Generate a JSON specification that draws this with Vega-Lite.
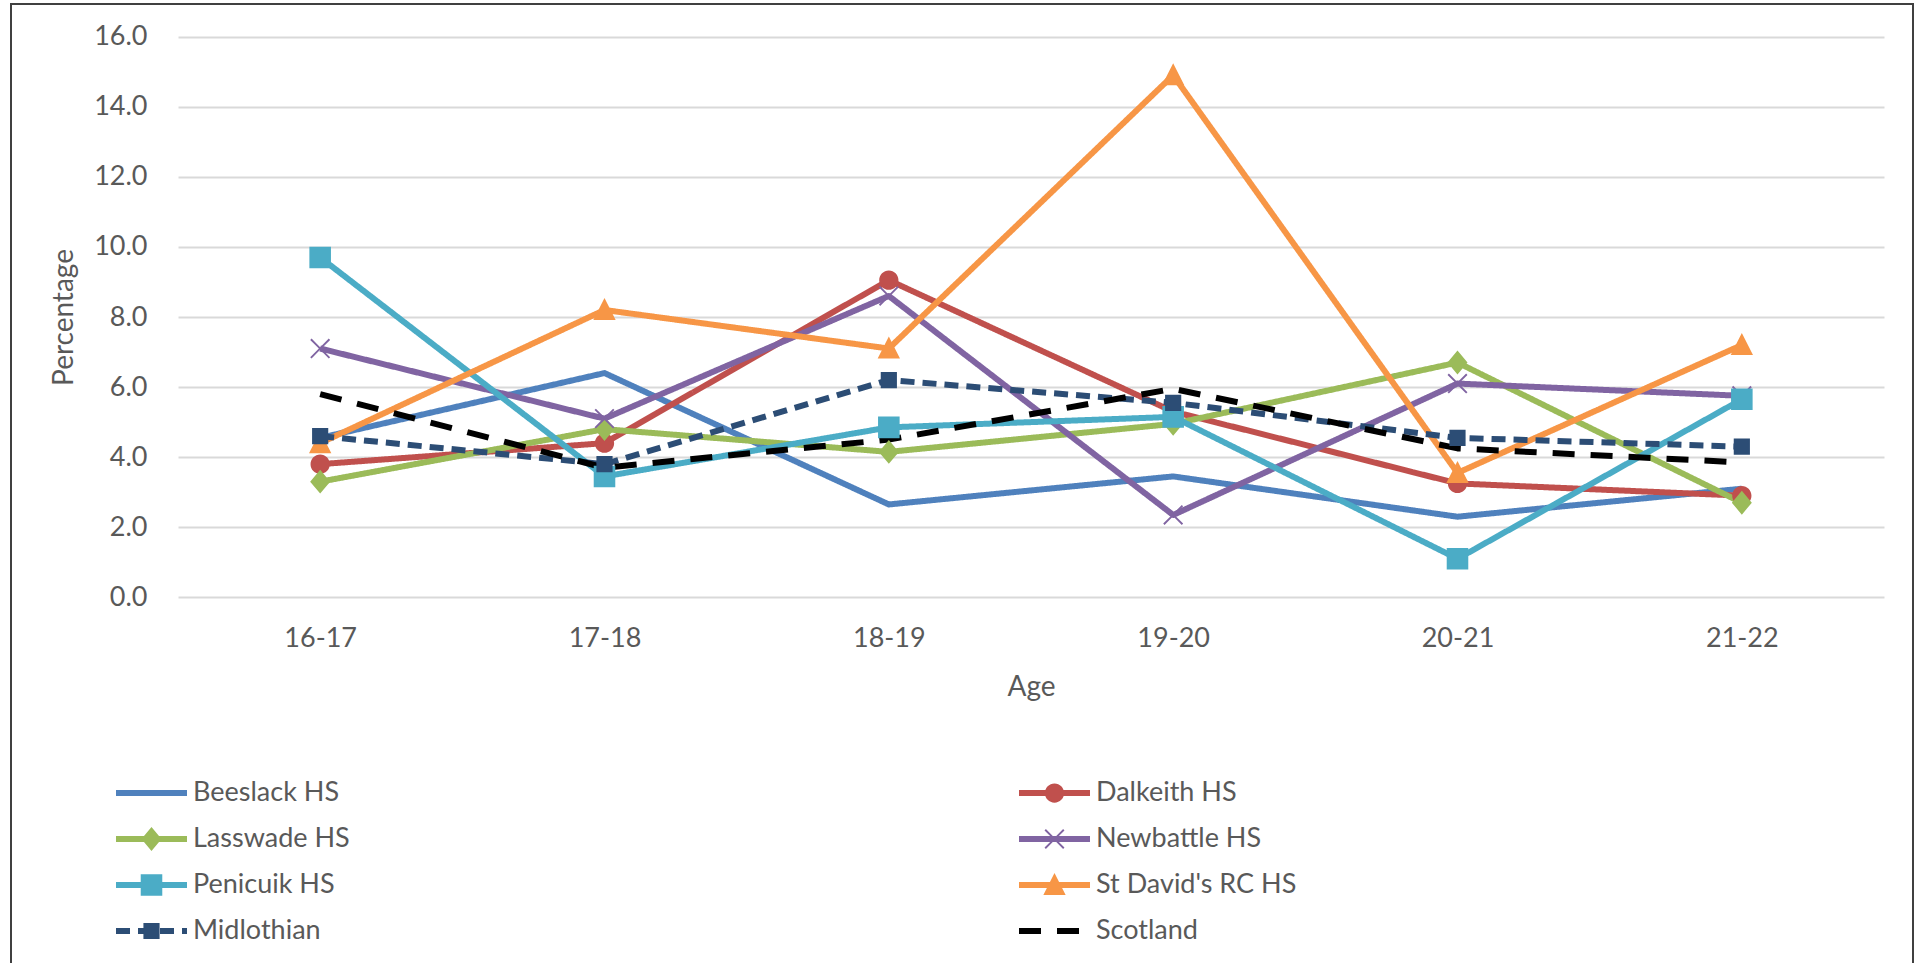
{
  "$schema": "https://vega.github.io/schema/vega-lite/v6.json",
  "width": 1902,
  "height": 965,
  "autosize": {"type": "none"},
  "padding": {"left": 11, "top": 4, "right": 10, "bottom": 0},
  "background": "white",
  "config": {
    "font": "Lato",
    "view": {"stroke": "#404040", "strokeWidth": 2},
    "axis": {
      "labelFont": "Lato", "labelFontSize": 27, "labelColor": "#595959",
      "titleFont": "Lato", "titleFontSize": 28, "titleColor": "#595959", "titleFontWeight": "normal",
      "domain": false, "ticks": false, "tickSize": 0
    }
  },
  "data": {
    "values": [
      {"age": "16-17", "school": "Beeslack HS", "pct": 4.55},
      {"age": "17-18", "school": "Beeslack HS", "pct": 6.4},
      {"age": "18-19", "school": "Beeslack HS", "pct": 2.65},
      {"age": "19-20", "school": "Beeslack HS", "pct": 3.45},
      {"age": "20-21", "school": "Beeslack HS", "pct": 2.3},
      {"age": "21-22", "school": "Beeslack HS", "pct": 3.1},
      {"age": "16-17", "school": "Dalkeith HS", "pct": 3.8},
      {"age": "17-18", "school": "Dalkeith HS", "pct": 4.4},
      {"age": "18-19", "school": "Dalkeith HS", "pct": 9.05},
      {"age": "19-20", "school": "Dalkeith HS", "pct": 5.3},
      {"age": "20-21", "school": "Dalkeith HS", "pct": 3.25},
      {"age": "21-22", "school": "Dalkeith HS", "pct": 2.9},
      {"age": "16-17", "school": "Lasswade HS", "pct": 3.3},
      {"age": "17-18", "school": "Lasswade HS", "pct": 4.8},
      {"age": "18-19", "school": "Lasswade HS", "pct": 4.15},
      {"age": "19-20", "school": "Lasswade HS", "pct": 4.95},
      {"age": "20-21", "school": "Lasswade HS", "pct": 6.7},
      {"age": "21-22", "school": "Lasswade HS", "pct": 2.7},
      {"age": "16-17", "school": "Newbattle HS", "pct": 7.1},
      {"age": "17-18", "school": "Newbattle HS", "pct": 5.1},
      {"age": "18-19", "school": "Newbattle HS", "pct": 8.6},
      {"age": "19-20", "school": "Newbattle HS", "pct": 2.35},
      {"age": "20-21", "school": "Newbattle HS", "pct": 6.1},
      {"age": "21-22", "school": "Newbattle HS", "pct": 5.75},
      {"age": "16-17", "school": "Penicuik HS", "pct": 9.7},
      {"age": "17-18", "school": "Penicuik HS", "pct": 3.45},
      {"age": "18-19", "school": "Penicuik HS", "pct": 4.85},
      {"age": "19-20", "school": "Penicuik HS", "pct": 5.15},
      {"age": "20-21", "school": "Penicuik HS", "pct": 1.1},
      {"age": "21-22", "school": "Penicuik HS", "pct": 5.65},
      {"age": "16-17", "school": "St David's RC HS", "pct": 4.4},
      {"age": "17-18", "school": "St David's RC HS", "pct": 8.2},
      {"age": "18-19", "school": "St David's RC HS", "pct": 7.1},
      {"age": "19-20", "school": "St David's RC HS", "pct": 14.9},
      {"age": "20-21", "school": "St David's RC HS", "pct": 3.55},
      {"age": "21-22", "school": "St David's RC HS", "pct": 7.2},
      {"age": "16-17", "school": "Midlothian", "pct": 4.6},
      {"age": "17-18", "school": "Midlothian", "pct": 3.8},
      {"age": "18-19", "school": "Midlothian", "pct": 6.2},
      {"age": "19-20", "school": "Midlothian", "pct": 5.55},
      {"age": "20-21", "school": "Midlothian", "pct": 4.55},
      {"age": "21-22", "school": "Midlothian", "pct": 4.3},
      {"age": "16-17", "school": "Scotland", "pct": 5.8},
      {"age": "17-18", "school": "Scotland", "pct": 3.7},
      {"age": "18-19", "school": "Scotland", "pct": 4.5},
      {"age": "19-20", "school": "Scotland", "pct": 5.95},
      {"age": "20-21", "school": "Scotland", "pct": 4.25},
      {"age": "21-22", "school": "Scotland", "pct": 3.85}
    ]
  },
  "encoding": {
    "x": {
      "field": "age", "type": "ordinal",
      "scale": {"type": "point", "range": [167, 1873], "padding": 0.5},
      "axis": {
        "orient": "bottom", "offset": -371.7, "labelPadding": 28, "labelAngle": 0, "grid": false,
        "title": "Age", "titleX": 1020, "titleY": 90, "titleBaseline": "middle", "titleAlign": "center"
      }
    },
    "y": {
      "field": "pct", "type": "quantitative",
      "scale": {"domain": [0, 16], "range": [593.3, 32.7], "nice": false, "zero": false},
      "axis": {
        "orient": "left", "offset": -167, "values": [0, 2, 4, 6, 8, 10, 12, 14, 16], "format": ".1f",
        "labelPadding": 31, "grid": true, "gridColor": "#d9d9d9", "gridWidth": 1.8,
        "title": "Percentage", "titleX": -114, "titleY": 313, "titleAngle": -90,
        "titleBaseline": "middle", "titleAlign": "center"
      }
    }
  },
  "layer": [
    {
      "mark": {"type": "line", "strokeWidth": 6, "strokeJoin": "round"},
      "encoding": {
        "stroke": {
          "field": "school", "type": "nominal",
          "scale": {
            "domain": ["Beeslack HS", "Dalkeith HS", "Lasswade HS", "Newbattle HS", "Penicuik HS", "St David's RC HS", "Midlothian", "Scotland"],
            "range": ["#4F81BD", "#C0504D", "#9BBB59", "#8064A2", "#4BACC6", "#F79646", "#2C4D75", "#000000"]
          },
          "legend": {
            "orient": "none", "direction": "horizontal", "legendX": 102, "legendY": 774, "columns": 2, "title": null,
            "symbolType": "stroke", "symbolSize": 5041, "symbolStrokeWidth": 6,
            "labelFont": "Lato", "labelFontSize": 27, "labelColor": "#595959", "labelOffset": 3, "labelLimit": 500,
            "clipHeight": 30, "rowPadding": 16, "columnPadding": 622, "gridAlign": "all", "padding": 0
          }
        },
        "strokeDash": {
          "field": "school", "type": "nominal",
          "scale": {
            "domain": ["Beeslack HS", "Dalkeith HS", "Lasswade HS", "Newbattle HS", "Penicuik HS", "St David's RC HS", "Midlothian", "Scotland"],
            "range": [[1, 0], [1, 0], [1, 0], [1, 0], [1, 0], [1, 0], [14, 8], [22, 16]]
          },
          "legend": {
            "orient": "none", "direction": "horizontal", "legendX": 102, "legendY": 774, "columns": 2, "title": null,
            "symbolType": "stroke", "symbolSize": 5041, "symbolStrokeWidth": 6,
            "labelFont": "Lato", "labelFontSize": 27, "labelColor": "#595959", "labelOffset": 3, "labelLimit": 500,
            "clipHeight": 30, "rowPadding": 16, "columnPadding": 622, "gridAlign": "all", "padding": 0
          }
        }
      }
    },
    {
      "mark": {"type": "point", "filled": true, "size": 5929, "strokeWidth": 0, "opacity": 1},
      "encoding": {
        "fill": {
          "field": "school", "type": "nominal",
          "scale": {
            "domain": ["Beeslack HS", "Dalkeith HS", "Lasswade HS", "Newbattle HS", "Penicuik HS", "St David's RC HS", "Midlothian", "Scotland"],
            "range": ["#4F81BD", "#C0504D", "#9BBB59", "#8064A2", "#4BACC6", "#F79646", "#2C4D75", "#000000"]
          },
          "legend": {
            "orient": "none", "direction": "horizontal", "legendX": 102, "legendY": 774, "columns": 2, "title": null,
            "symbolSize": 5929, "symbolStrokeWidth": 0,
            "labelFont": "Lato", "labelFontSize": 27, "labelColor": "#595959", "labelOpacity": 0, "labelOffset": 3, "labelLimit": 500,
            "clipHeight": 30, "rowPadding": 16, "columnPadding": 622, "gridAlign": "all", "padding": 0
          }
        },
        "shape": {
          "field": "school", "type": "nominal",
          "scale": {
            "domain": ["Beeslack HS", "Dalkeith HS", "Lasswade HS", "Newbattle HS", "Penicuik HS", "St David's RC HS", "Midlothian", "Scotland"],
            "range": [
              "M-1,0L-1,0.001M1,0L1,0.001",
              "M-0.25,0A0.25,0.25,0,1,1,0.25,0A0.25,0.25,0,1,1,-0.25,0ZM-1,0L-1,0.001M1,0L1,0.001",
              "M0,-0.31L0.26,0L0,0.31L-0.26,0ZM-1,0L-1,0.001M1,0L1,0.001",
              "M0,0.034L0.224,0.259L0.259,0.224L0.034,0L0.259,-0.224L0.224,-0.259L0,-0.034L-0.224,-0.259L-0.259,-0.224L-0.034,0L-0.259,0.224L-0.224,0.259ZM-1,0L-1,0.001M1,0L1,0.001",
              "M-0.28,-0.28L0.28,-0.28L0.28,0.28L-0.28,0.28ZM-1,0L-1,0.001M1,0L1,0.001",
              "M0,-0.31L0.29,0.26L-0.29,0.26ZM-1,0L-1,0.001M1,0L1,0.001",
              "M-0.21,-0.21L0.21,-0.21L0.21,0.21L-0.21,0.21ZM-1,0L-1,0.001M1,0L1,0.001",
              "M-1,0L-1,0.001M1,0L1,0.001"
            ]
          },
          "legend": {
            "orient": "none", "direction": "horizontal", "legendX": 102, "legendY": 774, "columns": 2, "title": null,
            "symbolSize": 5929, "symbolStrokeWidth": 0,
            "labelFont": "Lato", "labelFontSize": 27, "labelColor": "#595959", "labelOpacity": 0, "labelOffset": 3, "labelLimit": 500,
            "clipHeight": 30, "rowPadding": 16, "columnPadding": 622, "gridAlign": "all", "padding": 0
          }
        }
      }
    }
  ],
  "resolve": {"legend": {"fill": "independent", "shape": "independent"}}
}
